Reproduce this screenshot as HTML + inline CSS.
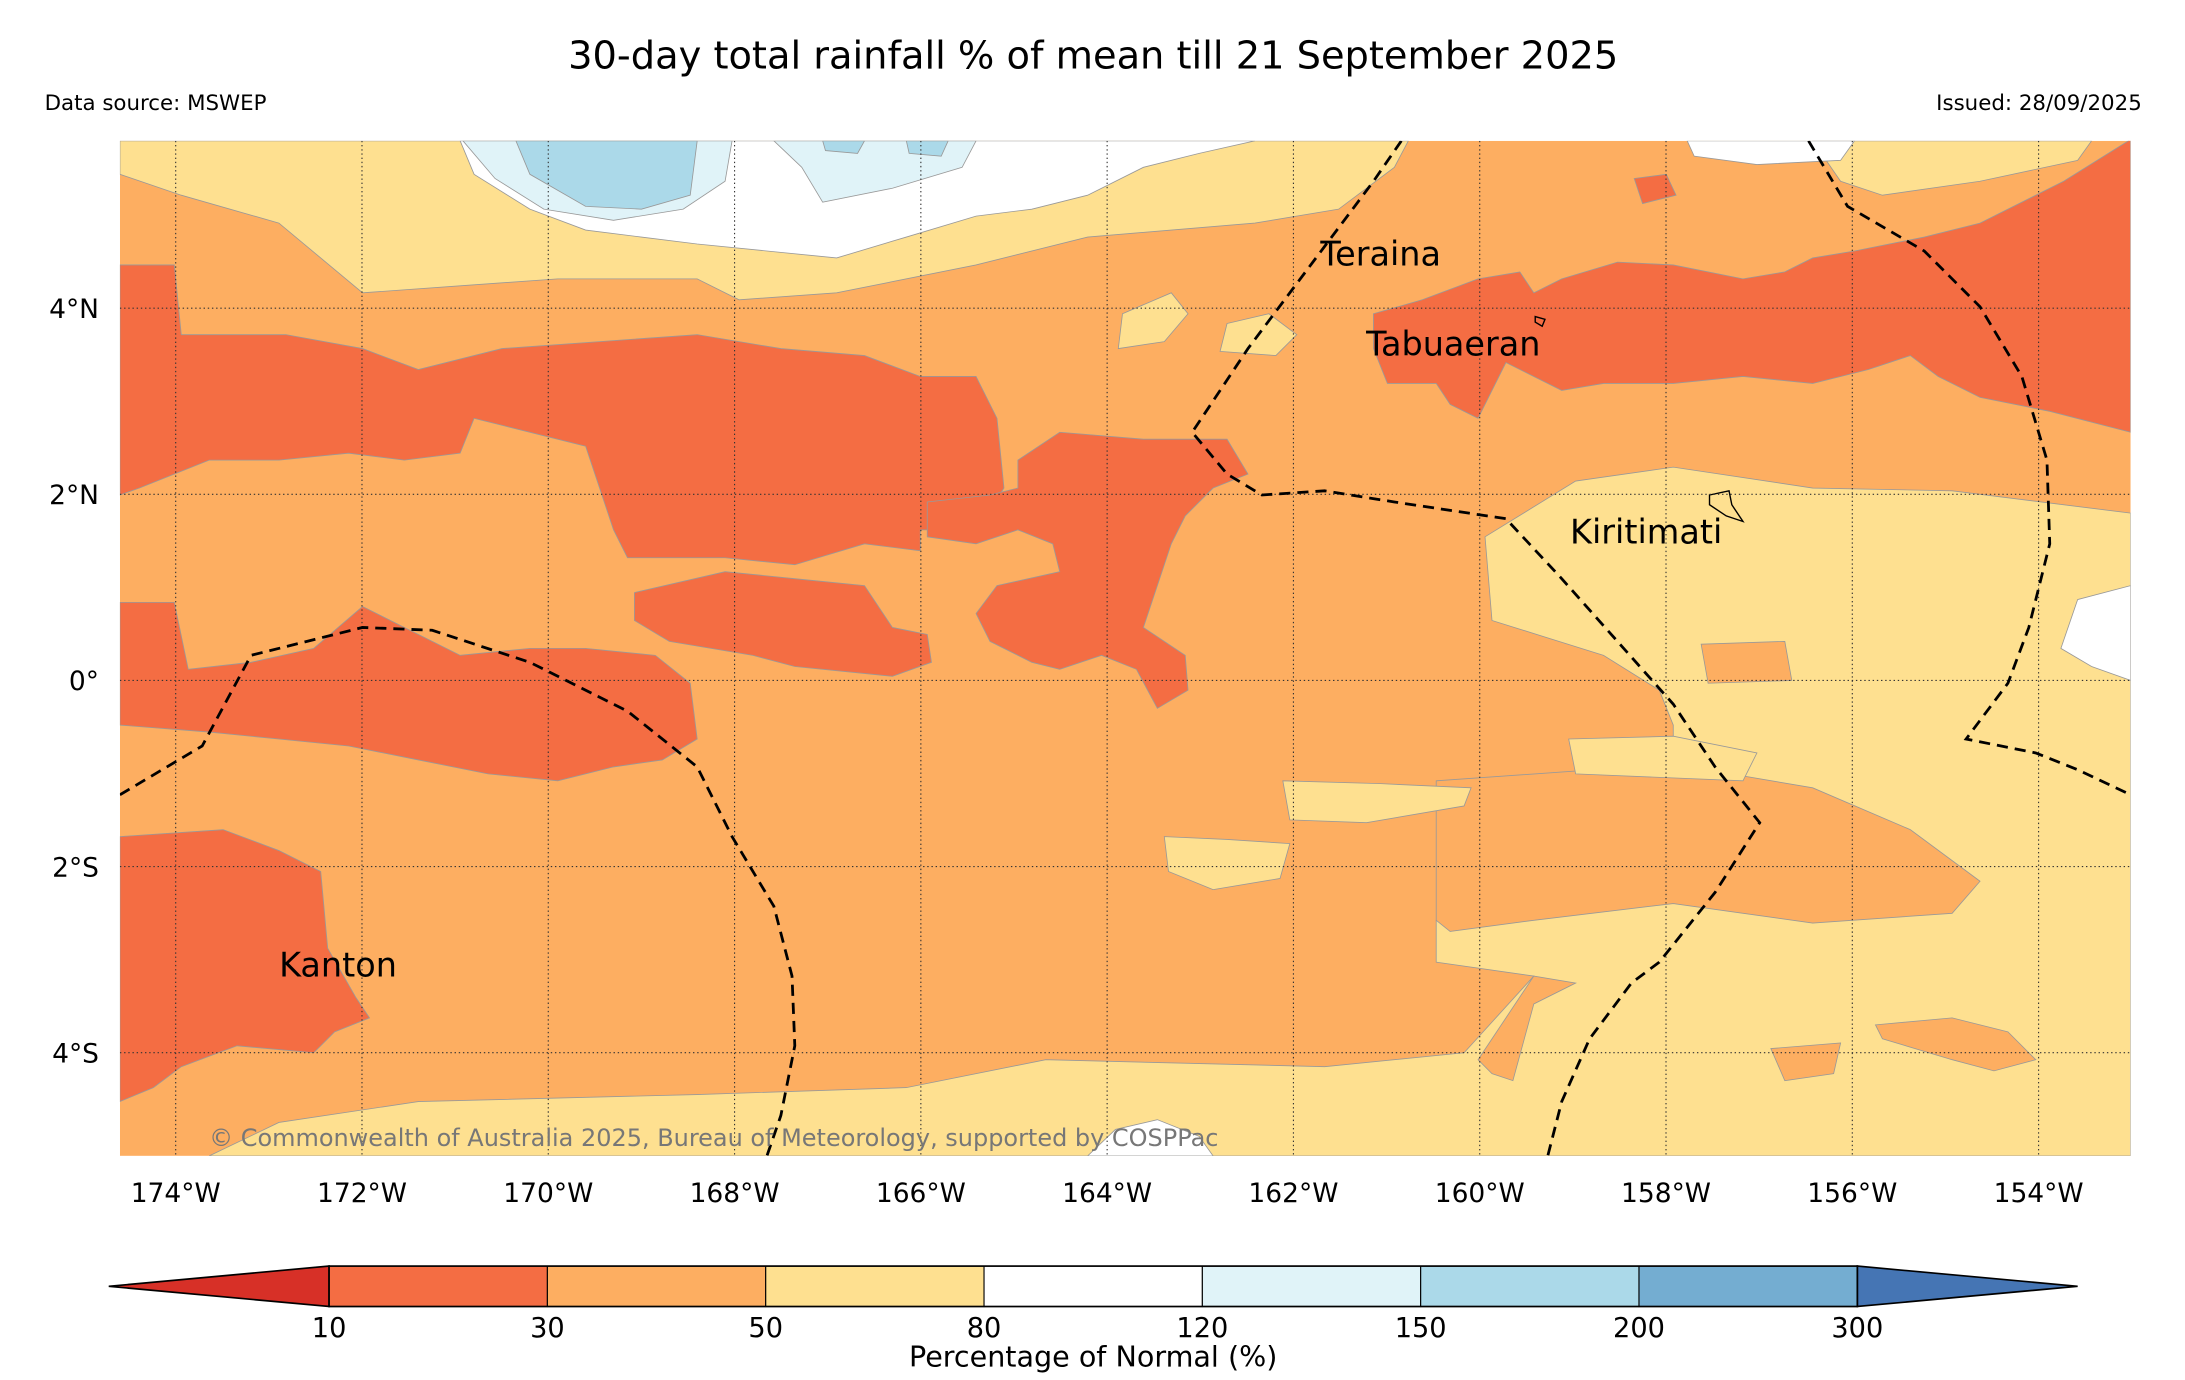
<!DOCTYPE html>
<html><head><meta charset="utf-8">
<style>
html,body{margin:0;padding:0;background:#fff;}
svg{display:block;font-family:"DejaVu Sans","Liberation Sans",sans-serif;}
</style></head>
<body>
<svg id="chart" width="2185" height="1380" viewBox="0 0 1567 989.7" preserveAspectRatio="none" xmlns="http://www.w3.org/2000/svg">
<text x="784" y="49" font-size="27.5" text-anchor="middle">30-day total rainfall % of mean till 21 September 2025</text>
<text x="32" y="79" font-size="15.3">Data source: MSWEP</text>
<text x="1536" y="79" font-size="15.3" text-anchor="end">Issued: 28/09/2025</text>
<defs><clipPath id="mapclip"><rect x="86" y="101" width="1442" height="728"/></clipPath></defs>
<g id="map" clip-path="url(#mapclip)" stroke="#999" stroke-width="0.6">
<rect x="86" y="101" width="1442" height="728" fill="#fdae61" stroke="none"/>
<path fill="#fee090" d="M86,101 L1010,101 L1000,120 L960,150 L900,160 L780,170 L700,190 L600,210 L530,215 L500,200 L400,200 L330,205 L260,210 L200,160 L130,140 L86,125 Z"/>
<path fill="#fee090" d="M1300,101 L1500,101 L1490,115 L1420,130 L1350,140 L1320,130 Z"/>
<path fill="#fee090" d="M1065,385 L1130,345 L1200,335 L1300,350 L1400,352 L1528,368 L1528,829 L150,829 L200,805 L300,790 L500,785 L650,780 L750,760 L950,765 L1050,755 L1100,700 L1030,690 L1030,660 L1100,640 L1150,630 L1200,590 L1200,520 L1190,495 L1150,470 L1070,445 Z"/>
<path fill="#fdae61" d="M1030,560 L1200,548 L1300,565 L1370,595 L1420,632 L1400,655 L1300,662 L1200,648 L1100,660 L1040,668 L1030,660 Z"/>
<path fill="#fee090" d="M1125,530 L1200,528 L1260,540 L1250,560 L1130,555 Z"/>
<path fill="#fee090" d="M920,560 L990,562 L1055,565 L1050,578 L980,590 L925,588 Z"/>
<path fill="#fee090" d="M835,600 L880,602 L925,605 L918,630 L870,638 L838,625 Z"/>
<path fill="#fee090" d="M805,225 L840,210 L852,225 L835,245 L802,250 Z"/>
<path fill="#fee090" d="M880,232 L910,225 L930,240 L915,255 L875,252 Z"/>
<path fill="#fdae61" d="M1220,462 L1280,460 L1285,488 L1225,490 Z"/>
<path fill="#fdae61" d="M1270,752 L1320,748 L1315,770 L1280,775 Z"/>
<path fill="#fdae61" d="M1345,735 L1400,730 L1440,740 L1460,760 L1430,768 L1400,760 L1350,745 Z"/>
<path fill="#fdae61" d="M1060,760 L1100,700 L1130,705 L1100,720 L1085,775 L1070,770 Z"/>
<path fill="#ffffff" d="M330,101 L900,101 L860,110 L820,120 L780,140 L740,150 L700,155 L650,170 L600,185 L550,180 L500,175 L460,170 L420,165 L380,150 L340,125 Z"/>
<path fill="#ffffff" d="M1210,101 L1330,101 L1320,115 L1260,118 L1215,112 Z"/>
<path fill="#ffffff" d="M1490,430 L1528,420 L1528,488 L1500,478 L1478,465 Z"/>
<path fill="#ffffff" d="M780,829 L800,810 L830,803 L860,815 L870,829 Z"/>
<path fill="#e0f3f8" d="M332,101 L525,101 L520,130 L490,150 L440,158 L390,150 L355,128 Z"/>
<path fill="#e0f3f8" d="M555,101 L700,101 L690,120 L640,135 L590,145 L575,120 Z"/>
<path fill="#abd9e9" d="M370,101 L500,101 L495,140 L460,150 L420,148 L380,125 Z"/>
<path fill="#abd9e9" d="M590,101 L620,101 L615,110 L592,108 Z"/>
<path fill="#abd9e9" d="M650,101 L680,101 L675,112 L652,110 Z"/>
<path fill="#f46d43" d="M86,190 L125,190 L130,240 L205,240 L260,250 L300,265 L360,250 L430,245 L500,240 L560,250 L620,255 L660,270 L700,270 L715,300 L720,350 L700,380 L660,380 L660,395 L620,390 L570,405 L520,400 L450,400 L440,380 L430,350 L420,320 L360,305 L340,300 L330,325 L290,330 L250,325 L200,330 L150,330 L100,350 L86,355 Z"/>
<path fill="#f46d43" d="M455,425 L520,410 L570,415 L620,420 L640,450 L665,455 L668,475 L640,485 L570,478 L540,470 L480,460 L455,445 Z"/>
<path fill="#f46d43" d="M730,330 L760,310 L820,315 L880,315 L895,340 L870,350 L850,370 L840,390 L830,420 L820,450 L850,470 L852,495 L830,508 L815,480 L790,470 L760,480 L740,475 L710,460 L700,440 L715,420 L760,410 L755,390 L730,380 L700,390 L665,385 L665,360 L710,355 L730,350 Z"/>
<path fill="#f46d43" d="M86,432 L125,432 L135,480 L180,475 L225,465 L260,435 L290,450 L330,470 L380,465 L420,465 L470,470 L495,490 L500,530 L475,545 L440,550 L400,560 L350,555 L300,545 L250,535 L200,530 L150,525 L86,520 Z"/>
<path fill="#f46d43" d="M86,600 L160,595 L200,610 L230,625 L235,680 L255,715 L265,730 L240,740 L225,755 L170,750 L130,765 L110,780 L86,790 Z"/>
<path fill="#f46d43" d="M985,225 L1020,215 L1060,200 L1090,195 L1100,210 L1120,200 L1160,188 L1200,190 L1250,200 L1280,195 L1300,185 L1330,180 L1380,170 L1420,160 L1480,130 L1528,100 L1528,310 L1470,295 L1420,285 L1390,270 L1370,255 L1340,265 L1300,275 L1250,270 L1200,275 L1150,275 L1120,280 L1100,270 L1080,260 L1070,280 L1060,300 L1040,290 L1030,275 L995,275 L985,250 Z"/>
<path fill="#f46d43" d="M1172,128 L1195,125 L1202,140 L1178,146 Z"/>
<path fill="none" stroke="#000" stroke-width="1" d="M1226,355 L1240,352 L1242,362 L1250,374 L1238,370 L1226,362 Z"/>
<path fill="none" stroke="#000" stroke-width="1" d="M1101,227 L1108,229 L1106,234 L1101,231 Z"/>
<g id="grid" stroke="#333" stroke-width="0.8" stroke-dasharray="1,2"></g>
<g fill="none" stroke="#000" stroke-width="2" stroke-dasharray="8,5">
<path d="M86,570 L145,535 L180,470 L260,450 L310,452 L380,475 L450,510 L500,550 L525,600 L555,650 L568,700 L570,750 L560,800 L550,829"/>
<path d="M1005,101 L985,130 L955,170 L925,210 L895,250 L855,310 L880,340 L905,355 L950,352 L1000,360 L1080,372 L1120,415 L1160,460 L1200,505 L1230,550 L1262,590 L1230,640 L1190,690 L1170,705 L1140,745 L1120,790 L1110,829"/>
<path d="M1297,101 L1325,148 L1380,180 L1420,220 L1450,270 L1468,330 L1470,390 L1455,450 L1440,490 L1410,530 L1460,540 L1490,552 L1528,570"/>
</g>
<g id="places" stroke="none"></g>
<text x="150" y="822" font-size="17.2" fill="#777" stroke="none">© Commonwealth of Australia 2025, Bureau of Meteorology, supported by COSPPac</text>
</g>
<g id="axes"></g>
<g id="colorbar"></g>
<text x="784" y="980" font-size="20.5" text-anchor="middle">Percentage of Normal (%)</text>
</svg>
<script>
const lonTicks = [-174,-172,-170,-168,-166,-164,-162,-160,-158,-156,-154];
const latTicks = [4,2,0,-2,-4];
const lonLabels = ["174°W","172°W","170°W","168°W","166°W","164°W","162°W","160°W","158°W","156°W","154°W"];
const latLabels = ["4°N","2°N","0°","2°S","4°S"];
const placeNames = ["Teraina","Tabuaeran","Kiritimati","Kanton"];
const placeLons = [-161.71,-161.22,-159.03,-172.89];
const placeLats = [4.46,3.49,1.47,-3.18];
const cbBounds = [10,30,50,80,120,150,200,300];
const cbColors = ["#f46d43","#fdae61","#fee090","#ffffff","#e0f3f8","#abd9e9","#74add1"];
const NS='http://www.w3.org/2000/svg';
function xLon(l){return 126+(l+174)*66.8;}
function yLat(t){return 488-t*66.75;}
function mk(tag,attrs,parent){const e=document.createElementNS(NS,tag);for(const k in attrs)e.setAttribute(k,attrs[k]);parent.appendChild(e);return e;}
const grid=document.getElementById('grid'),axes=document.getElementById('axes');
lonTicks.forEach((l,i)=>{
  const ln=mk('line',{x1:xLon(l),x2:xLon(l),y1:101,y2:829},grid);
  
  
  const t=mk('text',{x:xLon(l),y:862,'font-size':19,'text-anchor':'middle'},axes);
  
  
  t.textContent=lonLabels[i];
});
latTicks.forEach((v,i)=>{
  const ln=mk('line',{x1:86,x2:1528,y1:yLat(v),y2:yLat(v)},grid);
  
  
  const t=mk('text',{x:71,y:yLat(v)+7,'font-size':19,'text-anchor':'end'},axes);
  
  
  t.textContent=latLabels[i];
});
const places=document.getElementById('places');
placeNames.forEach((n,i)=>{
  const t=mk('text',{x:xLon(placeLons[i]),y:yLat(placeLats[i]),'font-size':24},places);
  
  
  t.textContent=n;
});
const cb=document.getElementById('colorbar');
const cbL=236,cbR=1332,cbT=908,cbB=937;
function xCb(i){return cbL+(cbR-cbL)*i/(cbBounds.length-1);}
const lt=mk('polygon',{points:`78,922.5 ${cbL},${cbT} ${cbL},${cbB}`,fill:'#d73027',stroke:'#000','stroke-width':1.2},cb);


const rt=mk('polygon',{points:`1490,922.5 ${cbR},${cbT} ${cbR},${cbB}`,fill:'#4575b4',stroke:'#000','stroke-width':1.2},cb);


cbColors.forEach((c,i)=>{
  const r=mk('rect',{x:xCb(i),y:cbT,width:xCb(i+1)-xCb(i),height:cbB-cbT,fill:c,stroke:'#000','stroke-width':0.8},cb);
  
  
});
mk('rect',{x:cbL,y:cbT,width:cbR-cbL,height:cbB-cbT,fill:'none',stroke:'#000','stroke-width':1.2},cb);
cbBounds.forEach((b,i)=>{
  const t=mk('text',{x:xCb(i),y:959,'font-size':19.5,'text-anchor':'middle'},cb);
  
  
  t.textContent=b;
});
</script>
</body></html>
